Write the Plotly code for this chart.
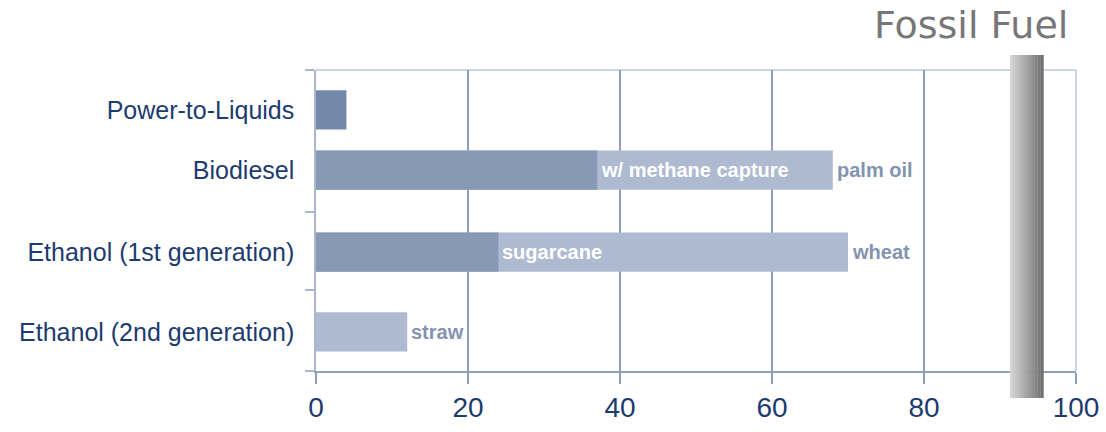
import plotly.graph_objects as go

# Greenhouse-gas intensity ranges by fuel pathway (gCO2e/MJ)
categories = ["Power-to-Liquids", "Biodiesel", "Ethanol (1st generation)", "Ethanol (2nd generation)"]
low_vals = [4, 37, 24, None]
low_labels = ["", "w/ methane capture", "sugarcane", ""]
high_vals = [None, 68, 70, 12]
high_labels = ["", "palm oil", "wheat", "straw"]
fossil_fuel = 93.5
x_ticks = [0, 20, 40, 60, 80, 100]

# vertical layout of the rows (axis units, top = 0) and the group separators
row_pos = [0.53, 1.33, 2.42, 3.48]
row_edges = [0, 1.89, 2.92, 4]

NAVY = "#1d3b6f"
GRID = "#8fa0bc"
FRAME = "#bcc7da"
DARK = ["#7488a9", "#8799b5", "#8799b5", "#8799b5"]
LIGHT = "#adbad0"
LABEL = "#8394b1"
BAR_W = 0.52

fig = go.Figure()

# full range (light) underneath
fig.add_trace(go.Bar(
    y=row_pos, x=high_vals, orientation="h", width=BAR_W,
    marker=dict(color=LIGHT, line=dict(width=0)), hoverinfo="skip",
))
# lower end of the range (dark) on top
fig.add_trace(go.Bar(
    y=row_pos, x=low_vals, orientation="h", width=BAR_W,
    marker=dict(color=DARK, line=dict(width=0)), hoverinfo="skip",
))

annotations = []
for yv, xv, txt in zip(row_pos, low_vals, low_labels):
    if xv is not None and txt:
        annotations.append(dict(
            x=xv, y=yv, xref="x", yref="y", text=txt, showarrow=False,
            xanchor="left", yanchor="middle", xshift=2,
            font=dict(family="Liberation Sans, Arial, sans-serif", size=20, color="white", weight="bold"),
        ))
for yv, xv, txt in zip(row_pos, high_vals, high_labels):
    if xv is not None and txt:
        annotations.append(dict(
            x=xv, y=yv, xref="x", yref="y", text=txt, showarrow=False,
            xanchor="left", yanchor="middle", xshift=2,
            font=dict(family="Liberation Sans, Arial, sans-serif", size=20, color=LABEL, weight="bold"),
        ))

annotations.append(dict(
    x=0.862, y=1.15, xref="paper", yref="paper", text="Fossil Fuel", showarrow=False,
    xanchor="center", yanchor="middle",
    font=dict(family="DejaVu Sans, Verdana, sans-serif", size=38, color="#777777"),
))

# fossil fuel reference bar, shaded left-to-right
shapes = []
half_w = 2.2
n_slices = 22
c0, c1 = (214, 214, 214), (112, 112, 112)
for i in range(n_slices):
    t = i / (n_slices - 1)
    col = tuple(round(a + (b - a) * t) for a, b in zip(c0, c1))
    x0 = fossil_fuel - half_w + 2 * half_w * i / n_slices
    x1 = fossil_fuel - half_w + 2 * half_w * (i + 1) / n_slices
    shapes.append(dict(
        type="rect", xref="x", yref="paper", x0=x0, x1=x1 + 0.05, y0=-0.09, y1=1.05,
        fillcolor="rgb(%d,%d,%d)" % col, line=dict(width=0), layer="above",
    ))

fig.update_layout(
    width=1106, height=432,
    margin=dict(l=316, r=30, t=70, b=61, autoexpand=False),
    paper_bgcolor="white", plot_bgcolor="white",
    barmode="overlay", showlegend=False,
    annotations=annotations, shapes=shapes,
    xaxis=dict(
        range=[0, 100], tickmode="array", tickvals=x_ticks, automargin=False,
        showgrid=True, gridcolor=GRID, gridwidth=1.5, zeroline=False,
        showline=True, linecolor=GRID, linewidth=1.5, mirror=False,
        ticks="outside", ticklen=11, tickcolor=GRID, tickwidth=1.5,
        tickfont=dict(family="Liberation Sans, Arial, sans-serif", size=28, color=NAVY),
    ),
    yaxis=dict(
        range=[4, 0], tickmode="array", tickvals=row_pos, ticktext=categories,
        showgrid=False, zeroline=False, automargin=False,
        showline=True, linecolor="#a9b6cc", linewidth=1.5,
        ticks="outside", ticklen=9, tickcolor="rgba(0,0,0,0)",
        ticklabelstandoff=6,
        minor=dict(tickmode="array", tickvals=row_edges, ticks="outside", ticklen=9,
                   tickcolor="#a9b6cc", tickwidth=1.5, showgrid=False),
        tickfont=dict(family="Liberation Sans, Arial, sans-serif", size=25, color=NAVY),
    ),
)

# light frame along the top and right edges
fig.add_shape(type="line", xref="paper", yref="paper", x0=0, x1=1, y0=1, y1=1,
              line=dict(color=FRAME, width=1.5), layer="below")
fig.add_shape(type="line", xref="paper", yref="paper", x0=1, x1=1, y0=0, y1=1,
              line=dict(color=FRAME, width=1.5), layer="below")

fig.write_html("out.html")
